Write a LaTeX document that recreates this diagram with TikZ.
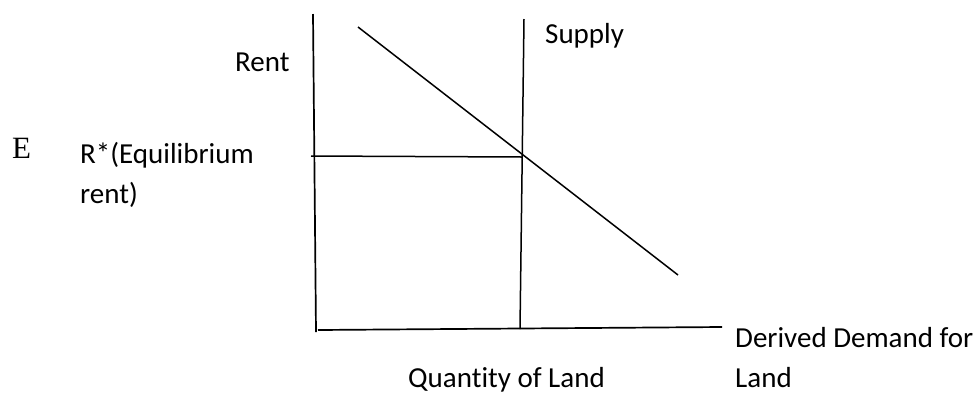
\documentclass[tikz,border=0pt]{standalone}
\usepackage{fontspec}
\setmainfont[Ligatures=CommonOff]{Carlito}
\newfontfamily\serifE{Liberation Serif}
\begin{document}
\begin{tikzpicture}[x=1pt,y=-1pt,
  axis/.style={line width=1.7pt,black},
  curve/.style={line width=1.5pt,black},
  lbl/.style={anchor=base west,inner sep=0pt,font=\fontsize{29}{34}\selectfont}]
\useasboundingbox (0,0) rectangle (978,392);
% axes
\coordinate (ytop) at (313,14);
\coordinate (ybot) at (316,332);
\coordinate (xl) at (318,330);
\coordinate (xr) at (722,327);
\draw[axis] (ytop) -- (ybot);
\draw[axis] (xl) -- (xr);
% supply
\coordinate (stop) at (524,19);
\coordinate (sbot) at (520,329);
\draw[curve] (stop) -- (sbot);
% equilibrium rent line
\coordinate (hl) at (311,156);
\coordinate (eq) at (522,157);
\draw[curve] (hl) -- (eq);
% demand
\coordinate (dtop) at (358,27);
\coordinate (dbot) at (678,275);
\draw[curve] (dtop) -- (dbot);
% labels
\node[lbl] (rent) at (235,71) {Rent};
\node[lbl] (supply) at (545,43) {Supply};
\node[lbl] (rstar) at (80,163) {R*(Equilibrium};
\node[lbl] (rstar2) at (80,203) {rent)};
\node[lbl,font=\serifE\fontsize{31}{36}\selectfont] (E) at (12,158) {E};
\node[lbl] (qty) at (408,387) {Quantity of Land};
\node[lbl] (dd) at (735,347) {Derived Demand for};
\node[lbl] (dd2) at (735,387) {Land};
\end{tikzpicture}
\end{document}
